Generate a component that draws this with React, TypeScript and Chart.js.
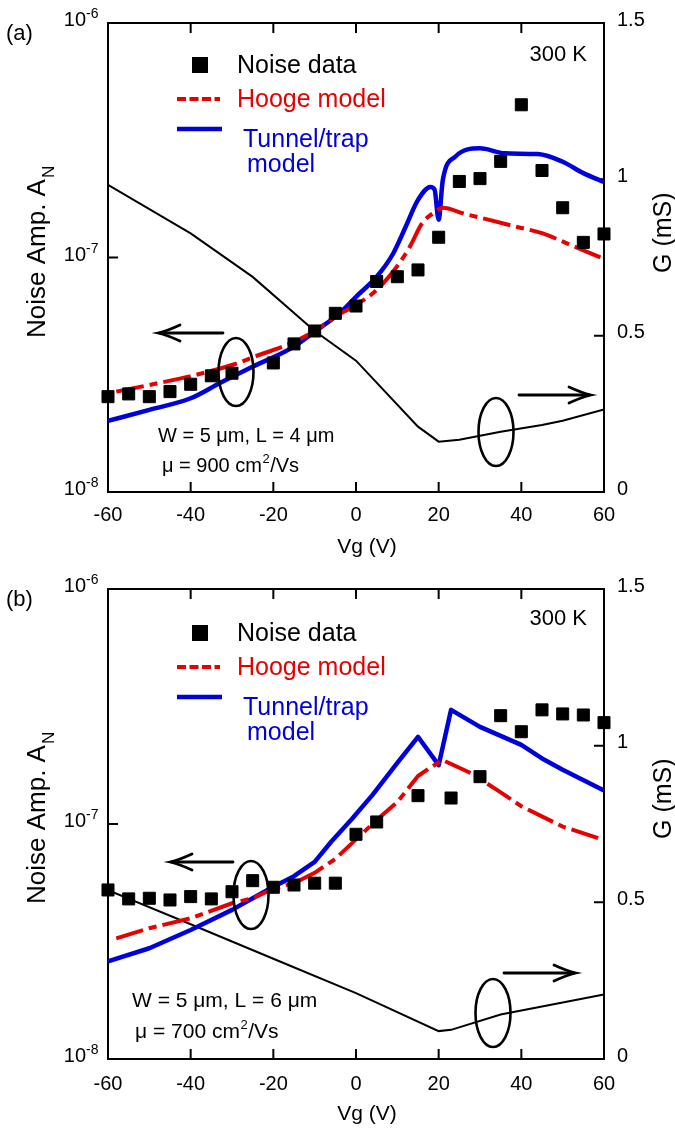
import React, { useEffect, useRef } from 'react';
import { Chart, registerables } from 'chart.js';

Chart.register(...registerables);

const FONT = '"Liberation Sans", Arial, Helvetica, sans-serif';
const RED = '#e60000';
const BLUE = '#0000dd';

// ---- axes ----
const VG_TICKS = [-60, -40, -20, 0, 20, 40, 60];
const AN_TICKS = [1e-8, 1e-7, 1e-6];
const AN_TICK_EXP = ['-8', '-7', '-6'];
const G_TICKS = [0, 0.5, 1, 1.5];
const G_TICK_LABELS = ['0', '0.5', '1', '1.5'];

// ---- panel (a) ----
const A_NOISE_VG = [-60, -55, -50, -45, -40, -35, -30, -20, -15, -10, -5, 0, 5, 10, 15, 20, 25, 30, 35, 40, 45, 50, 55, 60];
const A_NOISE = [2.55e-8, 2.62e-8, 2.55e-8, 2.68e-8, 2.88e-8, 3.13e-8, 3.21e-8, 3.55e-8, 4.28e-8, 4.86e-8, 5.78e-8, 6.21e-8, 7.9e-8, 8.28e-8, 8.85e-8, 1.22e-7, 2.11e-7, 2.17e-7, 2.57e-7, 4.48e-7, 2.35e-7, 1.63e-7, 1.16e-7, 1.26e-7];
const A_HOOGE_VG = [-58, -50, -40, -30, -25, -15, -10, -5, 0, 5, 10, 13, 16, 19, 21, 26, 32, 39, 45, 52, 60];
const A_HOOGE = [2.68e-8, 2.86e-8, 3.12e-8, 3.48e-8, 3.75e-8, 4.37e-8, 4.86e-8, 5.6e-8, 6.27e-8, 7.27e-8, 9.2e-8, 1.11e-7, 1.4e-7, 1.56e-7, 1.63e-7, 1.54e-7, 1.45e-7, 1.35e-7, 1.27e-7, 1.13e-7, 9.86e-8];
const A_TUNNEL_VG = [-60, -50, -40, -33, -25, -15, -10, -4, 0, 5, 9, 12, 15, 18, 19, 20, 21, 24, 30, 36, 44, 50, 55, 60];
const A_TUNNEL = [2.01e-8, 2.24e-8, 2.51e-8, 2.91e-8, 3.42e-8, 4.17e-8, 4.83e-8, 5.78e-8, 6.8e-8, 8.28e-8, 1.04e-7, 1.35e-7, 1.76e-7, 2.0e-7, 1.95e-7, 1.45e-7, 2.14e-7, 2.69e-7, 2.92e-7, 2.78e-7, 2.76e-7, 2.56e-7, 2.29e-7, 2.1e-7];
const A_G_VG = [-60, -40, -25, -10, 0, 15, 20, 25, 35, 45, 50, 60];
const A_G = [0.982, 0.827, 0.688, 0.515, 0.42, 0.209, 0.161, 0.167, 0.193, 0.214, 0.228, 0.264];

// ---- panel (b) ----
const B_NOISE_VG = [-60, -55, -50, -45, -40, -35, -30, -25, -20, -15, -10, -5, 0, 5, 15, 23, 30, 35, 40, 45, 50, 55, 60];
const B_NOISE = [5.24e-8, 4.8e-8, 4.83e-8, 4.75e-8, 4.91e-8, 4.8e-8, 5.15e-8, 5.74e-8, 5.38e-8, 5.5e-8, 5.6e-8, 5.6e-8, 9.04e-8, 1.02e-7, 1.32e-7, 1.29e-7, 1.59e-7, 2.89e-7, 2.47e-7, 3.06e-7, 2.94e-7, 2.91e-7, 2.7e-7];
const B_HOOGE_VG = [-58, -50, -40, -30, -25, -20, -15, -10, -5, 0, 5, 10, 15, 18, 21, 28, 34, 40, 50, 60];
const B_HOOGE = [3.26e-8, 3.6e-8, 3.97e-8, 4.6e-8, 4.83e-8, 5.3e-8, 5.6e-8, 6.2e-8, 7.1e-8, 8.6e-8, 1.04e-7, 1.24e-7, 1.6e-7, 1.74e-7, 1.87e-7, 1.64e-7, 1.4e-7, 1.19e-7, 9.75e-8, 8.55e-8];
const B_TUNNEL_VG = [-60, -50, -40, -30, -25, -20, -15, -10, -6, -1, 4, 10, 15, 20, 23, 30, 40, 45, 50, 60];
const B_TUNNEL = [2.6e-8, 2.96e-8, 3.54e-8, 4.31e-8, 4.83e-8, 5.41e-8, 6.0e-8, 6.9e-8, 8.4e-8, 1.05e-7, 1.33e-7, 1.82e-7, 2.35e-7, 1.78e-7, 3.06e-7, 2.59e-7, 2.17e-7, 1.9e-7, 1.7e-7, 1.39e-7];
const B_G_VG = [-60, -40, -20, 0, 20, 23, 35, 50, 60];
const B_G = [0.539, 0.43, 0.32, 0.21, 0.089, 0.093, 0.142, 0.18, 0.206];

type Panel = {
  id: string;
  label: string;
  canvasTop: number;
  padTop: number;
  padBottom: number;
  noise: [number[], number[]];
  hooge: [number[], number[]];
  tunnel: [number[], number[]];
  g: [number[], number[]];
  smooth: boolean;
  devLine1: string;
  mu: string;
  devX: [number, number];
  devDy: [number, number];
  devFont: number;
  xLabelDy: number;
  legendDy: number;
  tempDy: number;
  ellipses: [number, number][];
  leftArrow: [number, number, number];
  rightArrow: [number, number, number];
};

const PANELS: Panel[] = [
  {
    id: 'a', label: '(a)', canvasTop: 0, padTop: 23, padBottom: 73,
    noise: [A_NOISE_VG, A_NOISE], hooge: [A_HOOGE_VG, A_HOOGE], tunnel: [A_TUNNEL_VG, A_TUNNEL], g: [A_G_VG, A_G],
    smooth: true,
    devLine1: 'W = 5 \u03bcm, L = 4 \u03bcm', mu: '900', devX: [158, 162], devDy: [419, 449], devFont: 20,
    xLabelDy: 29, legendDy: 0, tempDy: 38,
    ellipses: [[236, 349], [496, 409]],
    leftArrow: [223, 158, 310], rightArrow: [519, 591, 372],
  },
  {
    id: 'b', label: '(b)', canvasTop: 565, padTop: 24, padBottom: 71,
    noise: [B_NOISE_VG, B_NOISE], hooge: [B_HOOGE_VG, B_HOOGE], tunnel: [B_TUNNEL_VG, B_TUNNEL], g: [B_G_VG, B_G],
    smooth: false,
    devLine1: 'W = 5 \u03bcm, L = 6 \u03bcm', mu: '700', devX: [132, 135], devDy: [418, 449], devFont: 21,
    xLabelDy: 31, legendDy: 2, tempDy: 36,
    ellipses: [[251, 306], [493, 424]],
    leftArrow: [233, 170, 273], rightArrow: [504, 576, 384],
  },
];

const pts = (xs: number[], ys: number[]) => xs.map((x, i) => ({ x, y: ys[i] }));

function drawArrow(ctx: CanvasRenderingContext2D, x1: number, x2: number, y: number) {
  const d = Math.sign(x2 - x1);
  ctx.beginPath();
  ctx.moveTo(x1, y);
  ctx.lineTo(x2 - d * 2, y);
  ctx.stroke();
  ctx.beginPath();
  ctx.moveTo(x2 - d * 22, y - 8);
  ctx.quadraticCurveTo(x2 - d * 9, y - 2, x2, y);
  ctx.quadraticCurveTo(x2 - d * 9, y + 2, x2 - d * 22, y + 8);
  ctx.stroke();
}

function makeOverlay(p: Panel) {
  return {
    id: 'overlay_' + p.id,
    beforeDatasetsDraw(chart: any) {
      const { ctx, chartArea, scales } = chart;
      const { left, right, top, bottom } = chartArea;
      ctx.save();
      ctx.strokeStyle = '#000';
      ctx.lineWidth = 2;
      ctx.strokeRect(left, top, right - left, bottom - top);
      const T = 10;
      ctx.beginPath();
      VG_TICKS.forEach((v) => {
        const x = scales.x.getPixelForValue(v);
        ctx.moveTo(x, bottom); ctx.lineTo(x, bottom - T);
        ctx.moveTo(x, top); ctx.lineTo(x, top + T);
      });
      AN_TICKS.forEach((v) => {
        const y = scales.yL.getPixelForValue(v);
        ctx.moveTo(left, y); ctx.lineTo(left + T, y);
      });
      G_TICKS.forEach((v) => {
        const y = scales.yR.getPixelForValue(v);
        ctx.moveTo(right, y); ctx.lineTo(right - T, y);
      });
      ctx.stroke();
      ctx.restore();
    },
    afterDraw(chart: any) {
      const { ctx, chartArea, scales } = chart;
      const { left, right, top, bottom } = chartArea;
      ctx.save();
      ctx.fillStyle = '#000';
      ctx.textBaseline = 'alphabetic';

      // x tick labels
      ctx.font = `20px ${FONT}`;
      ctx.textAlign = 'center';
      VG_TICKS.forEach((v) => {
        ctx.fillText(String(v), scales.x.getPixelForValue(v), bottom + p.xLabelDy);
      });
      ctx.font = `21px ${FONT}`;
      ctx.fillText('Vg (V)', (left + right) / 2 + 11, bottom + 61);

      // left log tick labels
      AN_TICKS.forEach((v, i) => {
        const y = scales.yL.getPixelForValue(v);
        ctx.font = `20px ${FONT}`;
        ctx.textAlign = 'right';
        ctx.fillText('10', left - 22, y + 3);
        ctx.font = `14px ${FONT}`;
        ctx.textAlign = 'left';
        ctx.fillText(AN_TICK_EXP[i], left - 22, y - 5);
      });

      // right tick labels
      ctx.font = `20px ${FONT}`;
      ctx.textAlign = 'left';
      G_TICKS.forEach((v, i) => {
        ctx.fillText(G_TICK_LABELS[i], right + 13, scales.yR.getPixelForValue(v) + 2.5);
      });

      // left title
      ctx.save();
      ctx.translate(45, top + 315);
      ctx.rotate(-Math.PI / 2);
      ctx.font = `26px ${FONT}`;
      ctx.textAlign = 'left';
      const t1 = 'Noise Amp. A';
      ctx.fillText(t1, 0, 0);
      const w1 = ctx.measureText(t1).width;
      ctx.font = `17px ${FONT}`;
      ctx.fillText('N', w1 + 1, 9);
      ctx.restore();

      // right title
      ctx.save();
      ctx.translate(671, top + 250);
      ctx.rotate(-Math.PI / 2);
      ctx.font = `25px ${FONT}`;
      ctx.textAlign = 'left';
      ctx.fillText('G (mS)', 0, 0);
      ctx.restore();

      // panel label and temperature
      ctx.font = `22px ${FONT}`;
      ctx.textAlign = 'left';
      ctx.fillText(p.label, 6, top + 17);
      ctx.font = `22px ${FONT}`;
      ctx.textAlign = 'right';
      ctx.fillText('300 K', right - 17, top + p.tempDy);

      // legend
      const ld = top + p.legendDy;
      ctx.fillRect(192, ld + 34, 16, 16);
      ctx.font = `25px ${FONT}`;
      ctx.textAlign = 'left';
      ctx.fillStyle = '#000';
      ctx.fillText('Noise data', 237, ld + 50);
      ctx.strokeStyle = RED;
      ctx.lineWidth = 4;
      ctx.setLineDash([9, 3.5]);
      ctx.beginPath(); ctx.moveTo(177, ld + 76); ctx.lineTo(220, ld + 76); ctx.stroke();
      ctx.setLineDash([]);
      ctx.fillStyle = RED;
      ctx.fillText('Hooge model', 237, ld + 84);
      ctx.strokeStyle = BLUE;
      ctx.lineWidth = 4.5;
      ctx.beginPath(); ctx.moveTo(177, ld + 106); ctx.lineTo(222, ld + 106); ctx.stroke();
      ctx.fillStyle = BLUE;
      ctx.fillText('Tunnel/trap', 243, ld + 124);
      ctx.fillText('model', 247, ld + 149);

      // device text
      ctx.fillStyle = '#000';
      ctx.font = `${p.devFont}px ${FONT}`;
      ctx.textAlign = 'left';
      ctx.fillText(p.devLine1, p.devX[0], top + p.devDy[0]);
      const m1 = `\u03bc = ${p.mu} cm`;
      ctx.fillText(m1, p.devX[1], top + p.devDy[1]);
      let wx = p.devX[1] + ctx.measureText(m1).width;
      ctx.font = `13px ${FONT}`;
      ctx.fillText('2', wx + 0.5, top + p.devDy[1] - 9);
      wx += ctx.measureText('2').width + 1;
      ctx.font = `${p.devFont}px ${FONT}`;
      ctx.fillText('/Vs', wx, top + p.devDy[1]);

      // ellipses and arrows
      ctx.strokeStyle = '#000';
      ctx.lineWidth = 2.6;
      p.ellipses.forEach(([cx, dy]) => {
        ctx.beginPath();
        ctx.ellipse(cx, top + dy, 17.5, 34, 0, 0, Math.PI * 2);
        ctx.stroke();
      });
      ctx.lineWidth = 2.8;
      ctx.lineCap = 'round';
      drawArrow(ctx, p.leftArrow[0], p.leftArrow[1], top + p.leftArrow[2]);
      drawArrow(ctx, p.rightArrow[0], p.rightArrow[1], top + p.rightArrow[2]);
      ctx.restore();
    },
  };
}

function PanelChart({ p }: { p: Panel }) {
  const ref = useRef<HTMLCanvasElement>(null);
  useEffect(() => {
    if (!ref.current) return;
    const interp = p.smooth ? { cubicInterpolationMode: 'monotone' as const } : { tension: 0 };
    const chart = new Chart(ref.current, {
      type: 'line',
      data: {
        datasets: [
          {
            label: 'Noise data',
            data: pts(p.noise[0], p.noise[1]),
            showLine: false,
            pointStyle: 'rect',
            pointRadius: 8.5,
            pointBackgroundColor: '#000',
            pointBorderColor: '#000',
            pointBorderWidth: 1,
            yAxisID: 'yL',
            clip: false,
          } as any,
          {
            label: 'Hooge model',
            data: pts(p.hooge[0], p.hooge[1]),
            borderColor: RED,
            borderWidth: 4,
            borderDash: [28, 6, 8, 6],
            pointRadius: 0,
            fill: false,
            yAxisID: 'yL',
            ...interp,
          } as any,
          {
            label: 'Tunnel/trap model',
            data: pts(p.tunnel[0], p.tunnel[1]),
            borderColor: BLUE,
            borderWidth: 4.5,
            borderJoinStyle: 'round',
            pointRadius: 0,
            fill: false,
            yAxisID: 'yL',
            ...interp,
          } as any,
          {
            label: 'G',
            data: pts(p.g[0], p.g[1]),
            borderColor: '#000',
            borderWidth: 2,
            pointRadius: 0,
            tension: 0,
            fill: false,
            yAxisID: 'yR',
          } as any,
        ],
      },
      options: {
        responsive: false,
        animation: false,
        events: [],
        layout: { padding: { left: 108, right: 71, top: p.padTop, bottom: p.padBottom } },
        plugins: { legend: { display: false }, tooltip: { enabled: false } },
        scales: {
          x: { type: 'linear', min: -60, max: 60, display: false },
          yL: { type: 'logarithmic', position: 'left', min: 1e-8, max: 1e-6, display: false },
          yR: { type: 'linear', position: 'right', min: 0, max: 1.5, display: false },
        },
      },
      plugins: [makeOverlay(p)],
    });
    return () => chart.destroy();
  }, [p]);
  return (
    <canvas
      ref={ref}
      width={675}
      height={565}
      style={{ position: 'absolute', left: 0, top: p.canvasTop, width: 675, height: 565 }}
    />
  );
}

export default function App() {
  return (
    <div style={{ position: 'absolute', left: 0, top: 0, width: 675, height: 1130, background: '#fff', overflow: 'hidden' }}>
      {PANELS.map((p) => (
        <PanelChart key={p.id} p={p} />
      ))}
    </div>
  );
}
